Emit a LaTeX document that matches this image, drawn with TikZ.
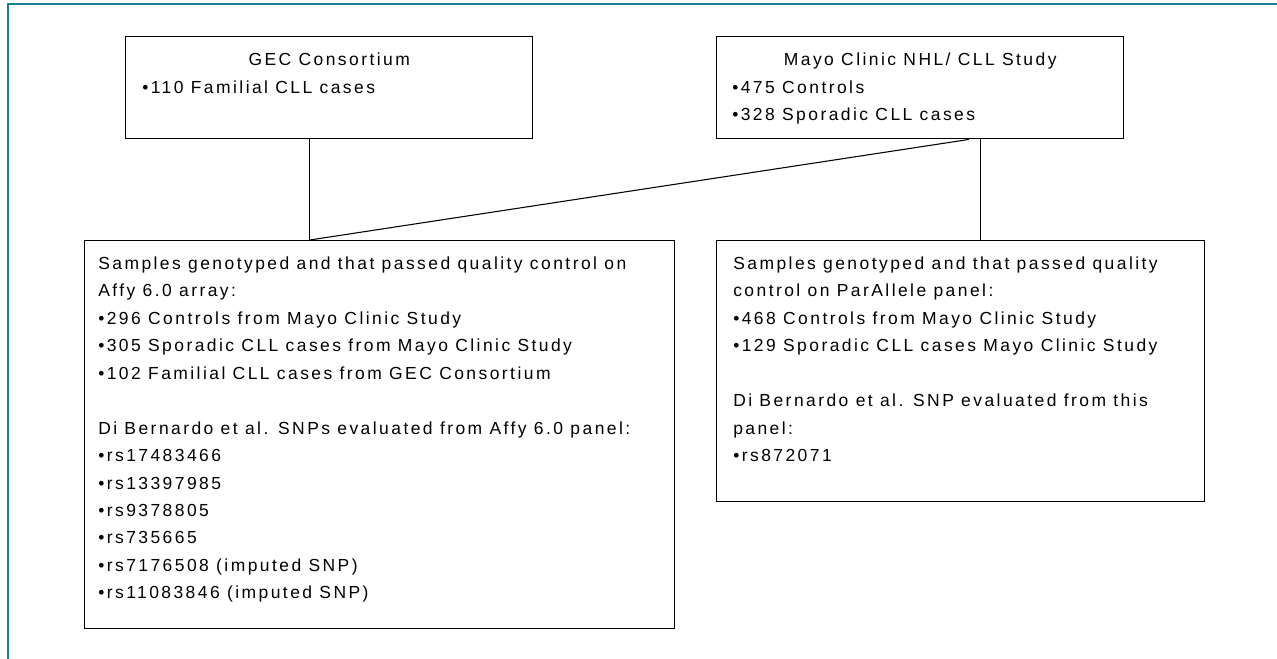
\documentclass[tikz,border=0pt]{standalone}
\usepackage{fontspec}
\setmainfont{Liberation Sans}[LetterSpace=14]
\definecolor{frameteal}{RGB}{20,130,148}
\begin{document}
\begin{tikzpicture}[x=0.75pt,y=-0.75pt,
  box/.style={draw=black,line width=1.1pt,anchor=north west,inner sep=0pt},
  link/.style={draw=black,line width=0.8pt},
  txt/.style={anchor=north west,inner sep=0pt,align=left,
    font=\fontsize{13.1pt}{20.6pt}\selectfont},
  ttl/.style={anchor=base,inner sep=0pt,
    font=\fontsize{13.1pt}{20.6pt}\selectfont}]
\useasboundingbox (0,0) rectangle (1277,658);
\fill[white] (0,0) rectangle (1277,658);
\draw[frameteal,line width=1.2pt] (8,700) -- (8,4) -- (1300,4);
% boxes
\node[box,minimum width=407*0.75pt,minimum height=102*0.75pt] (gec) at (125,36) {};
\node[box,minimum width=407*0.75pt,minimum height=102*0.75pt] (mayo) at (716,36) {};
\node[box,minimum width=590*0.75pt,minimum height=388*0.75pt] (affy) at (84,240) {};
\node[box,minimum width=488*0.75pt,minimum height=261*0.75pt] (par) at (716,240) {};
% texts
\node[ttl] (gect) at (gec.north |- 0,65) {GEC Consortium};
\node[txt] (gecl) at (142,93-13.33) {\rule{0pt}{10pt}•110 Familial CLL cases};
\node[ttl] (mayot) at (mayo.north |- 0,65) {Mayo Clinic NHL/ CLL Study};
\node[txt] (mayol) at (732,93-13.33) {\rule{0pt}{10pt}•475 Controls\\•328 Sporadic CLL cases};
\node[txt] (affyt) at (98,269-13.33) {\rule{0pt}{10pt}Samples genotyped and that passed quality control on\\
Affy 6.0 array:\\
•296 Controls from Mayo Clinic Study\\
•305 Sporadic CLL cases from Mayo Clinic Study\\
•102 Familial CLL cases from GEC Consortium\\[20.6pt]
Di Bernardo et al. SNPs evaluated from Affy 6.0 panel:\\
•rs17483466\\
•rs13397985\\
•rs9378805\\
•rs735665\\
•rs7176508 (imputed SNP)\\
•rs11083846 (imputed SNP)};
\node[txt] (part) at (733,269-13.33) {\rule{0pt}{10pt}Samples genotyped and that passed quality\\
control on ParAllele panel:\\
•468 Controls from Mayo Clinic Study\\
•129 Sporadic CLL cases Mayo Clinic Study\\[20.6pt]
Di Bernardo et al. SNP evaluated from this\\
panel:\\
•rs872071};
% connectors
\coordinate (gecfoot) at ([xshift=-19.5*0.75pt]gec.south);
\coordinate (affytop) at (gecfoot |- affy.north);
\coordinate (mayofoot) at ([xshift=48.5*0.75pt]mayo.south);
\coordinate (partop) at ([xshift=20*0.75pt]par.north);
\draw[link] (gecfoot) -- (affytop);
\draw[link] (mayofoot) -- (affytop);
\draw[link] (partop |- mayo.south) -- (partop);
\end{tikzpicture}
\end{document}
